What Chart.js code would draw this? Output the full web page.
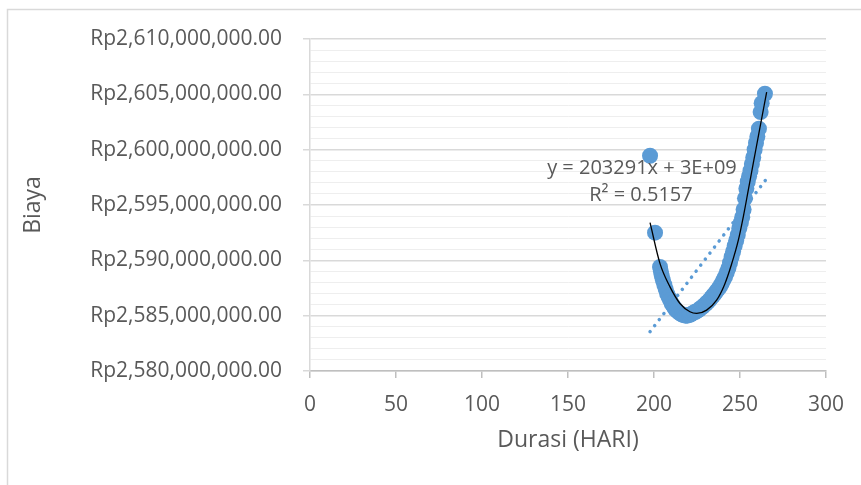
<!DOCTYPE html>
<html>
<head>
<meta charset="utf-8">
<script src="https://cdn.jsdelivr.net/npm/chart.js@4.4.0/dist/chart.umd.min.js"></script>
<style>
  html, body { margin: 0; padding: 0; background: #fff; }
</style>
</head>
<body>
<canvas id="biayaChart" width="861" height="485"></canvas>
<script>
// durasi (hari) and biaya (Rp)
var durasi = [197.7, 200.6, 203.5, 204.0, 204.5, 205.2, 206.0, 206.8, 207.6, 208.5,
  209.4, 210.3, 211.3, 212.3, 213.3, 214.3, 215.3, 216.3, 217.3, 218.3,
  219.3, 220.3, 221.3, 222.3, 223.3, 224.3, 225.3, 226.3, 227.3, 228.3,
  229.3, 230.3, 231.3, 232.3, 233.3, 234.3, 235.3, 236.3, 237.3, 238.3,
  239.3, 240.3, 241.3, 242.3, 243.3, 244.2, 245.1, 246.0, 246.9, 247.8,
  248.7, 249.6, 250.5, 251.3, 252.1, 252.9, 253.7, 254.5, 255.3, 256.1,
  256.9, 257.7, 258.5, 259.3, 260.1, 261.0, 262.0, 262.6, 264.5];
var biaya = [2599450000, 2592500000, 2589400000, 2589000000, 2588600000, 2588200000, 2587800000, 2587400000, 2587000000, 2586700000,
  2586400000, 2586100000, 2585850000, 2585600000, 2585450000, 2585300000, 2585200000, 2585100000, 2585050000, 2585000000,
  2585000000, 2585050000, 2585100000, 2585200000, 2585300000, 2585350000, 2585450000, 2585550000, 2585700000, 2585800000,
  2585950000, 2586100000, 2586250000, 2586400000, 2586600000, 2586800000, 2587000000, 2587200000, 2587400000, 2587600000,
  2587900000, 2588200000, 2588500000, 2588900000, 2589300000, 2589800000, 2590300000, 2590800000, 2591300000, 2591800000,
  2592300000, 2592900000, 2593400000, 2593900000, 2594600000, 2595600000, 2596500000, 2597100000, 2597600000, 2598100000,
  2598700000, 2599300000, 2600000000, 2600600000, 2601200000, 2601900000, 2603400000, 2604200000, 2605050000];

// polynomial trendline (black)
var polyX = [197.7, 203.5, 209.3, 215.1, 220.9, 224.8, 230.6, 236.4, 241.0, 245.0, 249.0, 252.0, 255.0, 258.0, 261.0, 265.5];
var polyY = [2593400000, 2589700000, 2587600000, 2586100000, 2585350000, 2585200000, 2585500000, 2586400000,
  2587800000, 2589600000, 2591800000, 2594000000, 2596500000, 2599000000, 2601500000, 2605200000];

// linear trendline (dotted) end points
var linX = [197.7, 265.1];
var linY = [2583550000, 2597300000];

// trendline label
var eqText = ['y = 203291x + 3E+09', 'R\u00b2 = 0.5157'];
var eqX = [193.0, 192.4];
var eqY = [2598320000, 2595880000];

var textColor = '#595959';
var fontFam = "'Open Sans', sans-serif";

function toPoints(xs, ys) {
    var pts = [];
    for (var i = 0; i < xs.length; i++) {
        pts.push({ x: xs[i], y: ys[i] });
    }
    return pts;
}

function isMajor(v) {
    return Math.round(v / 1000000) % 5 === 0;
}

var extrasPlugin = {
    id: 'extras',
    beforeDraw: function (chart) {
        var c = chart.ctx;
        c.save();
        c.strokeStyle = '#d9d9d9';
        c.lineWidth = 1.5;
        c.strokeRect(7.5, 9.5, 900, 600);
        c.restore();
    },
    afterDatasetsDraw: function (chart) {
        var c = chart.ctx;
        var xs = chart.scales.x, ys = chart.scales.y;
        c.save();
        c.fillStyle = textColor;
        c.font = '20px ' + fontFam;
        c.textAlign = 'center';
        c.textBaseline = 'middle';
        for (var i = 0; i < eqText.length; i++) {
            c.fillText(eqText[i], xs.getPixelForValue(eqX[i]), ys.getPixelForValue(eqY[i]));
        }
        c.restore();
    }
};

var ctx = document.getElementById('biayaChart').getContext('2d');
var biayaChart = new Chart(ctx, {
    type: 'scatter',
    data: {
        datasets: [{
            label: 'Poly. (Biaya)',
            data: toPoints(polyX, polyY),
            showLine: true,
            borderColor: '#000000',
            borderWidth: 1.3,
            pointRadius: 0,
            cubicInterpolationMode: 'monotone',
            fill: false
        }, {
            label: 'Linear (Biaya)',
            data: toPoints(linX, linY),
            showLine: true,
            borderColor: '#5b9bd5',
            borderWidth: 3.5,
            borderDash: [0.1, 7.5],
            borderCapStyle: 'round',
            pointRadius: 0,
            fill: false
        }, {
            label: 'Biaya',
            data: toPoints(durasi, biaya),
            backgroundColor: '#5b9bd5',
            borderWidth: 0,
            pointRadius: 8
        }]
    },
    options: {
        responsive: false,
        animation: false,
        layout: { padding: { top: 39, right: 35, left: 0, bottom: 0 } },
        plugins: {
            legend: { display: false },
            tooltip: { enabled: false }
        },
        scales: {
            x: {
                type: 'linear',
                min: 0,
                max: 300,
                afterFit: function (s) { s.height = 114; },
                ticks: {
                    stepSize: 50,
                    color: textColor,
                    font: { family: fontFam, size: 21 },
                    padding: 14
                },
                grid: {
                    drawOnChartArea: false,
                    tickLength: 7,
                    tickColor: '#bfbfbf',
                    lineWidth: 1.5
                },
                border: { color: '#bfbfbf', width: 1.5 },
                title: {
                    display: true,
                    text: 'Durasi (HARI)',
                    color: textColor,
                    font: { family: fontFam, size: 23 },
                    padding: { top: 0, bottom: 31 }
                }
            },
            y: {
                min: 2580000000,
                max: 2610000000,
                afterFit: function (s) { s.width = 310; },
                ticks: {
                    stepSize: 1000000,
                    autoSkip: false,
                    color: textColor,
                    font: { family: fontFam, size: 21 },
                    padding: 21,
                    callback: function (v) {
                        if (!isMajor(v)) return '';
                        return 'Rp' + v.toLocaleString('en-US', { minimumFractionDigits: 2, maximumFractionDigits: 2 });
                    }
                },
                grid: {
                    tickLength: 7,
                    color: function (c) { return isMajor(c.tick.value) ? '#d9d9d9' : '#eeeeee'; },
                    lineWidth: function (c) { return isMajor(c.tick.value) ? 1.5 : 1; },
                    tickColor: function (c) { return isMajor(c.tick.value) ? '#d9d9d9' : 'rgba(0,0,0,0)'; }
                },
                border: { color: '#d9d9d9', width: 1.5 },
                title: {
                    display: true,
                    text: 'Biaya',
                    color: textColor,
                    font: { family: fontFam, size: 23 },
                    padding: { top: 20, bottom: 0 }
                }
            }
        }
    },
    plugins: [extrasPlugin]
});
</script>
</body>
</html>
